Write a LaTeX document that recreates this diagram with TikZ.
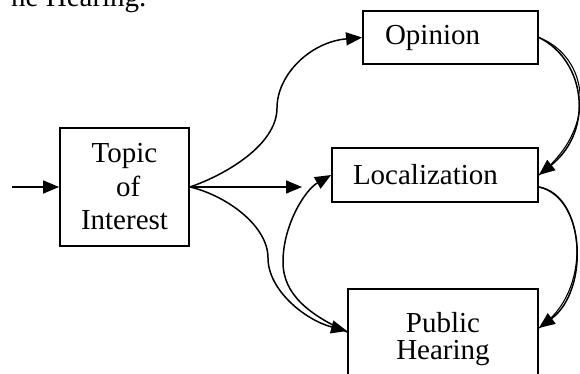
\documentclass[tikz,border=0pt]{standalone}
\usepackage{fontspec}
\setmainfont{Liberation Serif}
\usetikzlibrary{arrows.meta}
\begin{document}
\begin{tikzpicture}[x=1pt,y=-1pt,
  box/.style={draw, line width=1.8pt, inner sep=0pt},
  conn/.style={line width=1.5pt, -{Triangle[length=16pt,width=13pt]}},
  plain/.style={line width=1.1pt},
  txt/.style={font=\fontsize{29}{33.5}\selectfont}]
\useasboundingbox (0,0) rectangle (580,374);
\clip (0,0) rectangle (580,374);
\node[txt, anchor=base west, inner sep=0pt] (hdr) at (11,7) {ne Hearing.};
\node[box, txt, minimum width=129pt, minimum height=118pt, align=center] (t) at (124.5,187) {Topic\\~of\\Interest};
\node[box, txt, text width=131pt, inner xsep=22pt, minimum height=53pt, align=left] (op) at (450.5,37.5) {Opinion};
\node[box, txt, text width=164pt, inner xsep=21pt, minimum height=54pt, align=left] (loc) at (435,175) {Localization};
\node[box, minimum width=190pt, minimum height=100pt, align=center, font=\fontsize{29}{27}\selectfont] (ph) at (443,339) {Public\\Hearing};
\coordinate (src) at (12,187);
\coordinate (fwd) at (302,187);
\draw[conn] (src) -- (t.west);
\draw[conn] (t.east) -- (fwd);
\draw[conn] (t.east) .. controls (225,175) and (277,145) .. (277,108)
  .. controls (277,75) and (310,42) .. (op.west);
\draw[conn] (t.east) .. controls (225,195) and (268,225) .. (268,258)
  .. controls (268,290) and (305,320) .. ([yshift=8pt]ph.west);
\draw[conn] ([yshift=7pt]ph.west) .. controls (310,315) and (283,295) .. (283,262)
  .. controls (283,225) and (305,190) .. (loc.west);
\draw[conn] (op.east) .. controls (585,60) and (595,130) .. (loc.east);
\draw[plain] (op.east) .. controls (589,57) and (599,128) .. (loc.east);
\draw[conn] ([yshift=-12pt]loc.east) .. controls (585,195) and (590,290) .. ([yshift=11pt]ph.east);
\draw[plain] ([yshift=-12pt]loc.east) .. controls (586,198) and (593,292) .. ([yshift=11pt]ph.east);
\end{tikzpicture}
\end{document}
